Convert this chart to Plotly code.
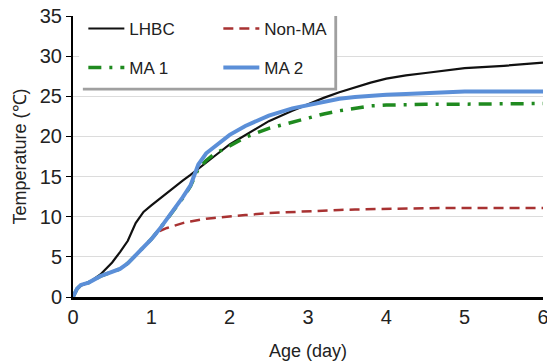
import plotly.graph_objects as go

ages = [0, 0.05, 0.1, 0.2, 0.35, 0.5, 0.6, 0.7, 0.8, 0.9, 1.0, 1.1, 1.2, 1.3, 1.4, 1.5,
        1.6, 1.7, 1.8, 2.0, 2.2, 2.5, 2.8, 3.0, 3.2, 3.4, 3.6, 3.8, 4.0, 4.25, 4.5, 4.75,
        5.0, 5.5, 6.0]
lhbc = [0, 0.9, 1.4, 1.8, 2.8, 4.3, 5.6, 7.0, 9.2, 10.6, 11.4, 12.2, 13.0, 13.8, 14.5, 15.2,
        16.0, 16.8, 17.5, 19.0, 20.2, 21.9, 23.2, 24.0, 24.8, 25.5, 26.1, 26.7, 27.2, 27.6, 27.9, 28.2,
        28.5, 28.8, 29.2]
non_ma = [0, 1.0, 1.5, 1.8, 2.6, 3.1, 3.5, 4.2, 5.2, 6.2, 7.2, 8.2, 8.6, 8.9, 9.2, 9.4,
          9.6, 9.75, 9.85, 10.05, 10.2, 10.45, 10.6, 10.7, 10.8, 10.85, 10.9, 10.95, 11.0, 11.05, 11.05, 11.1,
          11.1, 11.1, 11.1]
ma1 = [0, 1.0, 1.5, 1.8, 2.6, 3.1, 3.5, 4.2, 5.2, 6.2, 7.2, 8.4, 9.7, 11.0, 12.3, 13.8,
       16.0, 17.0, 17.8, 18.8, 19.9, 21.0, 21.8, 22.3, 22.8, 23.2, 23.5, 23.8, 23.9, 24.0, 24.0, 24.0,
       24.0, 24.1, 24.1]
ma2 = [0, 1.0, 1.5, 1.8, 2.6, 3.1, 3.5, 4.2, 5.2, 6.2, 7.2, 8.4, 9.7, 11.1, 12.4, 13.9,
       16.5, 17.9, 18.7, 20.2, 21.3, 22.6, 23.5, 23.9, 24.3, 24.7, 24.9, 25.1, 25.2, 25.3, 25.4, 25.5,
       25.6, 25.6, 25.6]

x_ticks = [0, 1, 2, 3, 4, 5, 6]
y_ticks = [0, 5, 10, 15, 20, 25, 30, 35]

FONT = "Liberation Sans, Arial, sans-serif"

fig = go.Figure()
fig.add_trace(go.Scatter(x=ages, y=lhbc, name="LHBC", mode="lines",
                         line=dict(color="#111111", width=2.2), legend="legend"))
fig.add_trace(go.Scatter(x=ages, y=non_ma, name="Non-MA", mode="lines",
                         line=dict(color="#a83232", width=2.5, dash="10px,6px"), legend="legend"))
fig.add_trace(go.Scatter(x=ages, y=ma1, name="MA 1", mode="lines",
                         line=dict(color="#1f8a1f", width=3.5, dash="13px,8px,3px,8px"), legend="legend2"))
fig.add_trace(go.Scatter(x=ages, y=ma2, name="MA 2", mode="lines",
                         line=dict(color="#5b8fd8", width=4), legend="legend2"))

# legend box (shadow + white panel)
fig.add_shape(type="rect", xref="paper", yref="paper", x0=0.021, x1=0.562, y0=0.735, y1=1.0,
              fillcolor="#a0a0a0", line=dict(width=0), layer="above")
fig.add_shape(type="rect", xref="paper", yref="paper", x0=0.013, x1=0.556, y0=0.745, y1=1.01,
              fillcolor="white", line=dict(width=0), layer="above")

legend_common = dict(orientation="h", xanchor="left", yanchor="middle", bgcolor="rgba(0,0,0,0)",
                     font=dict(family=FONT, size=17, color="#222"), entrywidth=84,
                     entrywidthmode="pixels", itemwidth=36)
fig.update_layout(
    width=547, height=364,
    margin=dict(l=73, r=4, t=16, b=67, autoexpand=False),
    plot_bgcolor="white", paper_bgcolor="white",
    font=dict(family=FONT, size=17, color="#222"),
    legend=dict(x=0.022, y=0.954, **legend_common),
    legend2=dict(x=0.022, y=0.815, **legend_common),
    xaxis=dict(range=[0, 6], tickvals=x_ticks, showgrid=False, zeroline=False,
               showline=True, linecolor="black", linewidth=3, ticks="",
               ticklabeloverflow="allow", automargin=False,
               title=dict(text="Age (day)", standoff=18, font=dict(size=18)),
               tickfont=dict(size=20)),
    yaxis=dict(range=[0, 35], tickvals=y_ticks, showgrid=True, gridcolor="#dcdcdc", gridwidth=1,
               zeroline=False, showline=True, linecolor="black", linewidth=2,
               ticks="outside", ticklen=5, tickcolor="black", automargin=False,
               title=dict(text="Temperature (℃)", standoff=8, font=dict(size=18)),
               tickfont=dict(size=20)),
)
fig.write_html("out.html")
